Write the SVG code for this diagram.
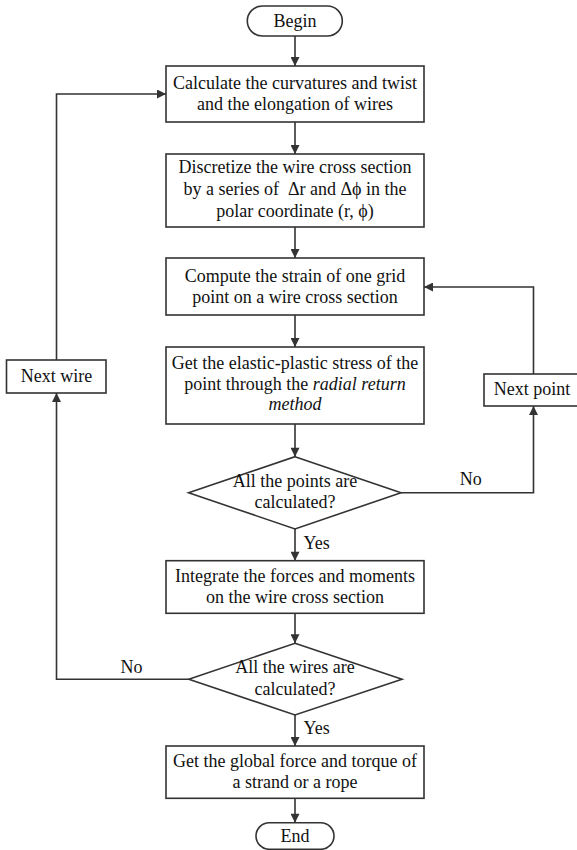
<svg xmlns="http://www.w3.org/2000/svg" width="577" height="850" viewBox="0 0 577 850">
<defs>
<style>
.box{fill:#fff;stroke:#333;stroke-width:1.6}
.ln{fill:none;stroke:#333;stroke-width:1.6}
text{font-family:"Liberation Serif","Times New Roman",serif;font-size:18px;fill:#111;text-anchor:middle}
.l{text-anchor:start}
</style>
<marker id="ah" viewBox="0 0 10 10" refX="10" refY="5" markerWidth="10" markerHeight="9" markerUnits="userSpaceOnUse" orient="auto">
<path d="M0,0 L10,5 L0,10 z" fill="#333"/>
</marker>
</defs>
<rect width="577" height="850" fill="#fff"/>
<g id="connectors">
<line class="ln" x1="295" y1="36" x2="295" y2="66" marker-end="url(#ah)"/>
<line class="ln" x1="295" y1="122" x2="295" y2="154" marker-end="url(#ah)"/>
<line class="ln" x1="295" y1="227" x2="295" y2="258" marker-end="url(#ah)"/>
<line class="ln" x1="295" y1="315" x2="295" y2="347" marker-end="url(#ah)"/>
<line class="ln" x1="295" y1="424" x2="295" y2="456.7" marker-end="url(#ah)"/>
<line class="ln" x1="295" y1="529" x2="295" y2="560.7" marker-end="url(#ah)"/>
<line class="ln" x1="295" y1="613.3" x2="295" y2="643.3" marker-end="url(#ah)"/>
<line class="ln" x1="295" y1="715" x2="295" y2="746" marker-end="url(#ah)"/>
<line class="ln" x1="295" y1="798.3" x2="295" y2="822.7" marker-end="url(#ah)"/>
<polyline class="ln" points="401,492.7 533.5,492.7 533.5,406" marker-end="url(#ah)"/>
<polyline class="ln" points="533.5,374 533.5,287 424,287" marker-end="url(#ah)"/>
<polyline class="ln" points="188.8,679.3 56.5,679.3 56.5,393" marker-end="url(#ah)"/>
<polyline class="ln" points="56.5,360 56.5,94 166,94" marker-end="url(#ah)"/>
<text x="470.7" y="485">No</text>
<text x="131.4" y="673.3">No</text>
<text class="l" x="303.6" y="549">Yes</text>
<text class="l" x="303.6" y="734">Yes</text>
</g>
<g id="begin">
<rect class="box" x="247.3" y="6" width="95" height="30" rx="15"/>
<text x="295" y="26.7">Begin</text>
</g>
<g id="calc-curvatures">
<rect class="box" x="166" y="66" width="258" height="56"/>
<text x="295" y="88.5">Calculate the curvatures and twist</text>
<text x="295" y="110">and the elongation of wires</text>
</g>
<g id="discretize">
<rect class="box" x="166" y="154" width="258" height="73"/>
<text x="295" y="173">Discretize the wire cross section</text>
<text x="295" y="195" xml:space="preserve">by a series of  Δr and Δϕ in the</text>
<text x="295" y="216.5">polar coordinate (r, ϕ)</text>
</g>
<g id="compute-strain">
<rect class="box" x="166" y="258" width="258" height="57"/>
<text x="295" y="281.7">Compute the strain of one grid</text>
<text x="295" y="303.3">point on a wire cross section</text>
</g>
<g id="get-stress">
<rect class="box" x="166" y="347" width="258" height="77"/>
<text x="295" y="369">Get the elastic-plastic stress of the</text>
<text x="295" y="390">point through the <tspan font-style="italic">radial return</tspan></text>
<text x="295" y="410" font-style="italic">method</text>
</g>
<g id="next-wire">
<rect class="box" x="6.5" y="360" width="99.5" height="33"/>
<text x="56.5" y="382">Next wire</text>
</g>
<g id="next-point">
<rect class="box" x="484" y="374" width="96" height="32"/>
<text x="532" y="395">Next point</text>
</g>
<g id="all-points">
<polygon class="box" points="295,456.7 401,492.7 295,529 188.6,492.7"/>
<text x="295" y="487.3">All the points are</text>
<text x="295" y="508.3">calculated?</text>
</g>
<g id="integrate">
<rect class="box" x="166" y="560.7" width="258" height="52.6"/>
<text x="295" y="581.7">Integrate the forces and moments</text>
<text x="295" y="603.3">on the wire cross section</text>
</g>
<g id="all-wires">
<polygon class="box" points="295,643.3 402,679.3 295,715 188.8,679.3"/>
<text x="295" y="673.3">All the wires are</text>
<text x="295" y="695">calculated?</text>
</g>
<g id="global-force">
<rect class="box" x="166" y="746" width="258" height="52.3"/>
<text x="295" y="766.7">Get the global force and torque of</text>
<text x="295" y="788.3">a strand or a rope</text>
</g>
<g id="end">
<rect class="box" x="256" y="822.7" width="78" height="26.6" rx="13.3"/>
<text x="295" y="841.7">End</text>
</g>
</svg>
